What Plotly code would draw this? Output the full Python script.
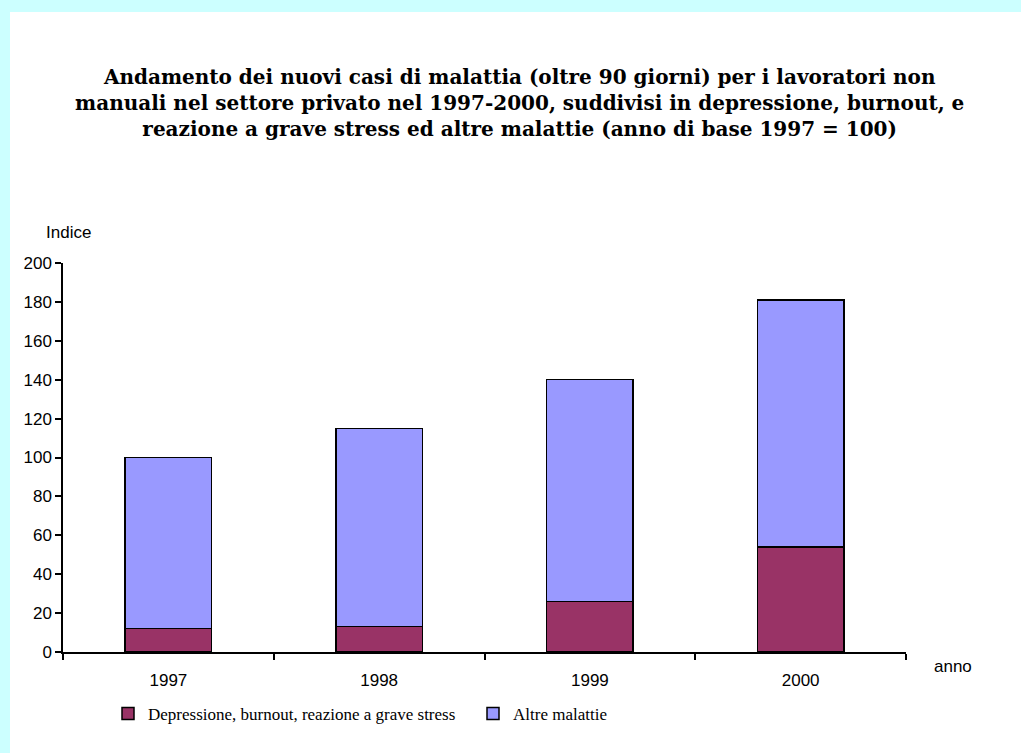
import plotly.graph_objects as go

anni = ["1997", "1998", "1999", "2000"]
depressione = [12, 13, 26, 54]
altre_malattie = [88, 102, 114, 127]

W, H = 1021, 753
L, R, T, B = 63, 115, 263, 101
pw, ph = W - L - R, H - T - B

def px_x(x):
    return (x - L) / pw

def px_y(y):
    return (H - B - y) / ph

fig = go.Figure()
fig.add_trace(go.Bar(
    x=anni, y=depressione, name="Depressione, burnout, reazione a grave stress",
    marker=dict(color="#993366", line=dict(color="black", width=1.5)),
))
fig.add_trace(go.Bar(
    x=anni, y=altre_malattie, name="Altre malattie",
    marker=dict(color="#9999FF", line=dict(color="black", width=1.5)),
))

fig.update_layout(
    width=W, height=H,
    margin=dict(l=L, r=R, t=T, b=B),
    barmode="stack",
    bargap=0.59,
    paper_bgcolor="#CCFFFF",
    plot_bgcolor="white",
    title=dict(
        text="Andamento dei nuovi casi di malattia (oltre 90 giorni) per i lavoratori non<br>"
             "manuali nel settore privato nel 1997-2000, suddivisi in depressione, burnout, e<br>"
             "reazione a grave stress ed altre malattie (anno di base 1997 = 100)",
        font=dict(family="DejaVu Serif", size=20, color="black", weight="bold"),
        x=0.509, xanchor="center", xref="container",
        y=1 - 84 / H, yanchor="middle", yref="container",
    ),
    font=dict(family="Liberation Sans", size=17, color="black"),
    showlegend=True,
    legend=dict(
        orientation="h",
        x=px_x(108), xanchor="left",
        y=px_y(714), yanchor="middle",
        font=dict(family="Liberation Serif", size=17, color="black"),
        entrywidth=320, entrywidthmode="pixels",
        bgcolor="rgba(0,0,0,0)",
        traceorder="normal",
    ),
    xaxis=dict(
        showline=True, linecolor="black", linewidth=1.5,
        ticks="outside", tickson="boundaries", ticklen=6, tickcolor="black", tickwidth=1.5,
        ticklabelstandoff=12,
        tickfont=dict(family="Liberation Sans", size=17, color="black"),
        showgrid=False, zeroline=False,
    ),
    yaxis=dict(
        range=[0, 200], dtick=20,
        showline=True, linecolor="black", linewidth=1.5,
        ticks="outside", ticklen=6, tickcolor="black", tickwidth=1.5,
        tickfont=dict(family="Liberation Sans", size=17, color="black"),
        showgrid=False, zeroline=False,
    ),
    shapes=[dict(
        type="rect", xref="paper", yref="paper", layer="below",
        x0=px_x(10), x1=px_x(W + 5), y0=px_y(H + 5), y1=px_y(12),
        fillcolor="white", line=dict(width=0),
    )],
    annotations=[
        dict(text="Indice", xref="paper", yref="paper", x=px_x(44), y=px_y(233),
             xanchor="left", yanchor="middle", showarrow=False,
             font=dict(family="Liberation Sans", size=17, color="black")),
        dict(text="anno", xref="paper", yref="paper", x=px_x(932), y=px_y(666),
             xanchor="left", yanchor="middle", showarrow=False,
             font=dict(family="Liberation Sans", size=17, color="black")),
    ],
)

fig.write_html("out.html")
